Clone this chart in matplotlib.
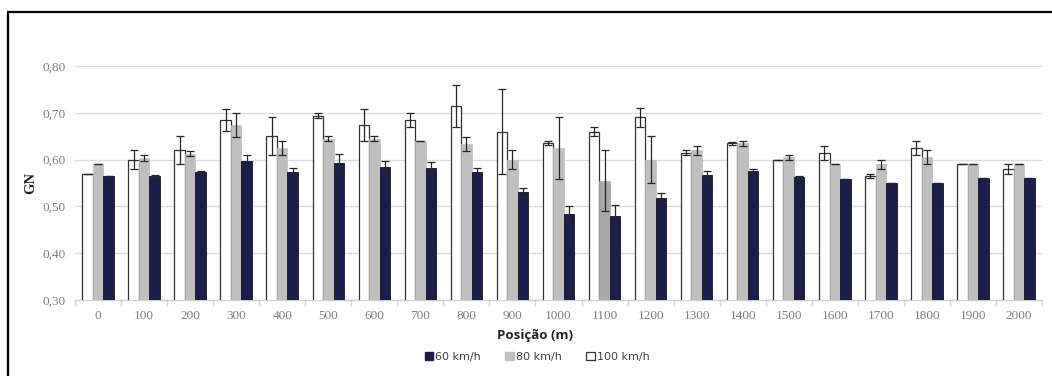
import matplotlib
matplotlib.use("Agg")
import matplotlib.pyplot as plt
import numpy as np
from matplotlib.patches import Rectangle
from matplotlib.ticker import FuncFormatter, FixedLocator

positions = ['0', '100', '200', '300', '400', '500', '600', '700', '800', '900', '1000',
             '1100', '1200', '1300', '1400', '1500', '1600', '1700', '1800', '1900', '2000']

gn_100 = [0.570, 0.600, 0.621, 0.685, 0.650, 0.694, 0.674, 0.685, 0.715, 0.660, 0.635,
          0.660, 0.690, 0.615, 0.635, 0.600, 0.615, 0.565, 0.625, 0.590, 0.580]
err_100 = [0.0, 0.02, 0.03, 0.024, 0.04, 0.005, 0.034, 0.015, 0.045, 0.09, 0.004,
           0.01, 0.02, 0.005, 0.003, 0.0, 0.015, 0.004, 0.015, 0.0, 0.01]

gn_80 = [0.590, 0.603, 0.613, 0.674, 0.625, 0.645, 0.645, 0.640, 0.634, 0.600, 0.625,
         0.555, 0.600, 0.620, 0.635, 0.605, 0.590, 0.590, 0.605, 0.590, 0.590]
err_80 = [0.0, 0.007, 0.006, 0.025, 0.015, 0.005, 0.005, 0.0, 0.015, 0.02, 0.066,
          0.065, 0.05, 0.01, 0.005, 0.005, 0.0, 0.01, 0.015, 0.0, 0.0]

gn_60 = [0.565, 0.565, 0.573, 0.596, 0.574, 0.593, 0.584, 0.582, 0.573, 0.530, 0.483,
         0.479, 0.519, 0.568, 0.575, 0.562, 0.559, 0.550, 0.550, 0.560, 0.560]
err_60 = [0.0, 0.003, 0.002, 0.014, 0.009, 0.018, 0.013, 0.012, 0.01, 0.01, 0.017,
          0.025, 0.01, 0.007, 0.005, 0.003, 0.0, 0.0, 0.0, 0.0, 0.0]

labels = ['60 km/h', '80 km/h', '100 km/h']

fig = plt.figure(figsize=(10.52, 3.76), dpi=100)
ax = fig.add_axes([75/1052, 1 - 300/376, 967/1052, 234/376])

x = np.arange(len(positions))
w = 0.228
navy = '#1b1e4a'
gray = '#bfbfbf'
ekw = dict(ecolor='#262626', elinewidth=0.9, capsize=2.6, capthick=0.9)

gray_colors = [gray] * len(positions)
gray_colors[positions.index('1100')] = '#a8a8a8'

b100 = ax.bar(x - w, gn_100, w, color='white', edgecolor='#333333', linewidth=0.9,
              yerr=err_100, error_kw=ekw, zorder=3)
b80 = ax.bar(x, gn_80, w, color=gray_colors, edgecolor=gray_colors, linewidth=0.5,
             yerr=err_80, error_kw=ekw, zorder=3)
b60 = ax.bar(x + w, gn_60, w, color=navy, edgecolor='#111122', linewidth=0.6,
             yerr=err_60, error_kw=ekw, zorder=3)

ax.set_ylim(0.30, 0.80)
ax.set_xlim(-0.5, len(positions) - 0.5)
ax.set_yticks([0.30, 0.40, 0.50, 0.60, 0.70, 0.80])
ax.yaxis.set_major_formatter(FuncFormatter(lambda v, p: f"{v:.2f}".replace('.', ',')))
ax.grid(axis='y', color='#dcdcdc', linewidth=1.0, zorder=0)
ax.set_axisbelow(True)

for s in ['top', 'right', 'left']:
    ax.spines[s].set_visible(False)
ax.spines['bottom'].set_color('#d0d0d0')
ax.spines['bottom'].set_linewidth(1.0)

ax.set_xticks(x)
ax.set_xticklabels(positions)
ax.xaxis.set_minor_locator(FixedLocator(np.arange(-0.5, len(positions), 1.0)))
ax.tick_params(axis='x', which='major', length=0, pad=7)
ax.tick_params(axis='x', which='minor', length=4, color='#d0d0d0', width=1)
ax.tick_params(axis='y', length=0, pad=7)

for lab in ax.get_xticklabels() + ax.get_yticklabels():
    lab.set_fontfamily('Liberation Serif')
    lab.set_fontsize(9.5)
    lab.set_color('#7f7f7f')

ax.set_ylabel('GN', fontfamily='Liberation Serif', fontweight='bold', fontsize=10.5,
              color='#222222')
ax.yaxis.set_label_coords((37 - 75) / 967, 0.5)

fig.text(535/1052, 1 - 336/376, 'Posição (m)', ha='center', va='center',
         fontfamily='Open Sans', fontweight='bold', fontsize=9.5, color='#222222')

handles = [
    Rectangle((0, 0), 1, 1, facecolor=navy, edgecolor=navy),
    Rectangle((0, 0), 1, 1, facecolor=gray, edgecolor=gray),
    Rectangle((0, 0), 1, 1, facecolor='white', edgecolor='#333333', linewidth=0.9),
]
fig.legend(handles, labels, loc='center', bbox_to_anchor=(537/1052, 1 - 357/376),
           ncol=3, frameon=False, prop={'family': 'DejaVu Sans', 'size': 8},
           handlelength=0.8, handleheight=0.8, handletextpad=0.15, columnspacing=2.2,
           labelcolor='#404040')

border = Rectangle((8/1052, -0.1), 1.2, 1 - 12/376 + 0.1, transform=fig.transFigure,
                   fill=False, edgecolor='black', linewidth=1.6, clip_on=False)
fig.add_artist(border)

fig.savefig('out.png', dpi=100)
